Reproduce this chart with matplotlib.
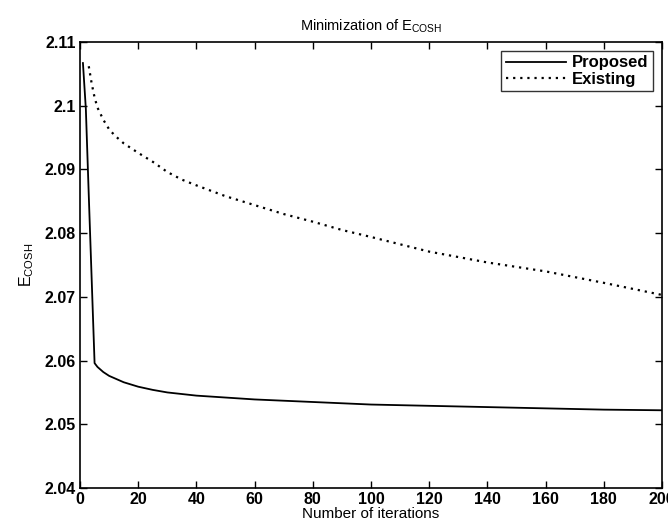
import matplotlib
matplotlib.use('Agg')
import matplotlib.pyplot as plt

plt.rcParams['font.family'] = ['Liberation Sans', 'DejaVu Sans']
plt.rcParams['mathtext.default'] = 'regular'

# iteration counts and cost values for both methods
prop_iter = [1, 2, 3, 4, 5, 6, 8, 10, 15, 20, 25, 30, 40, 50, 60, 80,
             100, 120, 140, 160, 180, 200]
prop_cost = [2.1067, 2.0995, 2.0860, 2.0728, 2.0596, 2.0590, 2.0582,
             2.0576, 2.0566, 2.0559, 2.0554, 2.0550, 2.0545, 2.0542,
             2.0539, 2.0535, 2.0531, 2.0529, 2.0527, 2.0525, 2.0523, 2.0522]

exist_iter = [3, 4, 5, 6, 8, 10, 12, 15, 20, 25, 30, 35, 40, 50, 60, 70,
              80, 90, 100, 120, 140, 160, 180, 200]
exist_cost = [2.1062, 2.1035, 2.1013, 2.0997, 2.0978, 2.0963, 2.0953,
              2.0941, 2.0926, 2.0912, 2.0896, 2.0884, 2.0875, 2.0858,
              2.0844, 2.0830, 2.0818, 2.0805, 2.0794, 2.0771, 2.0754,
              2.0740, 2.0722, 2.0703]

x_ticks = [0, 20, 40, 60, 80, 100, 120, 140, 160, 180, 200]
y_ticks = [2.04, 2.05, 2.06, 2.07, 2.08, 2.09, 2.10, 2.11]
y_tick_labels = ['2.04', '2.05', '2.06', '2.07', '2.08', '2.09', '2.1', '2.11']

fig = plt.figure(figsize=(6.68, 5.32), dpi=100)
ax = fig.add_axes([0.1198, 0.0827, 0.8713, 0.8383])

ax.plot(prop_iter, prop_cost, color='black', linestyle='-', linewidth=1.3,
        label='Proposed')
ax.plot(exist_iter, exist_cost, color='black', linestyle=(0, (1, 2.2)),
        linewidth=1.6, label='Existing')

ax.set_xlim(0, 200)
ax.set_ylim(2.04, 2.11)
ax.set_xticks(x_ticks)
ax.set_yticks(y_ticks)
ax.set_yticklabels(y_tick_labels)
ax.tick_params(direction='in', length=5, width=1, top=True, right=True,
               labelsize=11.5, pad=3)
for lab in ax.get_xticklabels() + ax.get_yticklabels():
    lab.set_fontweight('bold')
for sp in ax.spines.values():
    sp.set_linewidth(1.2)

ax.set_title('Minimization of E$_{COSH}$', fontsize=10.5, pad=8)
ax.set_xlabel('Number of iterations', fontsize=11, labelpad=0)
ax.set_ylabel('E$_{COSH}$', fontsize=11.5, labelpad=6)

leg = ax.legend(loc='upper right', fontsize=12, frameon=True, fancybox=False,
                borderaxespad=0.55, handlelength=3.6, borderpad=0.25,
                labelspacing=0.1, handletextpad=0.4)
leg.get_frame().set_edgecolor('black')
leg.get_frame().set_linewidth(1.0)
for t in leg.get_texts():
    t.set_fontweight('bold')

fig.savefig('out.png', dpi=100)
